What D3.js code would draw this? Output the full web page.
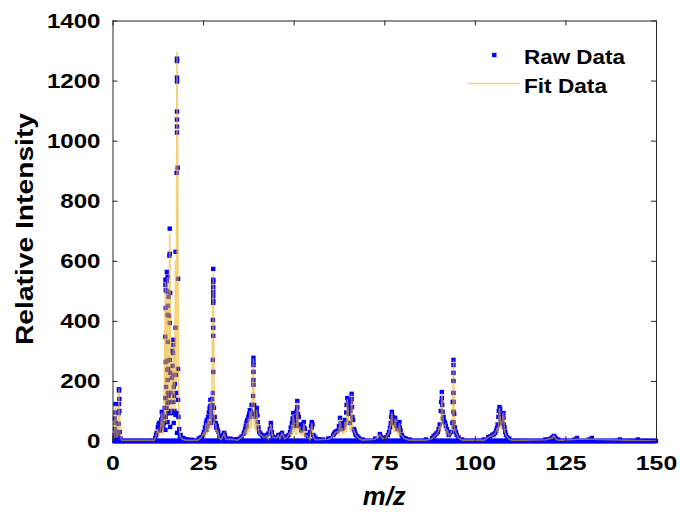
<!DOCTYPE html>
<html><head><meta charset="utf-8">
<script src="https://cdn.jsdelivr.net/npm/d3@7/dist/d3.min.js"></script>
<style>body{margin:0;background:#fff}svg{display:block}text{font-family:"Liberation Sans",Arial,sans-serif;font-weight:bold;fill:#000}</style>
</head><body><div id="chart"></div>
<script>
// ---------- data ----------
const xTicks = [0, 25, 50, 75, 100, 125, 150];
const yTicks = [0, 200, 400, 600, 800, 1000, 1200, 1400];
const seriesNames = ["Raw Data", "Fit Data"];

// raw data points above baseline (m/z, intensity)
const rawMz = [
 0.5,0.7,0.8,0.8,0.9,1.6,1.7,1.7,1.8,1.8,1.8,2.0,2.2,
 11.8,12.2,12.5,12.9,13.2,13.6,13.7,14.0,
 14.6,14.6,14.7,14.7,14.6,14.7,14.6,14.7,14.6,
 14.9,15.0,15.0,15.1,15.1,
 15.2,15.2,15.3,15.2,15.3,15.2,15.3,15.2,15.3,15.2,
 15.5,15.6,
 15.8,15.8,15.7,15.9,15.8,15.8,15.9,15.8,15.8,15.9,
 16.5,16.8,16.8,16.7,16.8,16.9,16.8,16.8,16.9,
 17.4,17.4,17.5,17.4,
 17.8,17.8,17.8,17.8,17.8,17.8,17.8,17.8,17.7,17.8,17.8,
 18.0,18.1,18.1,18.1,18.6,19.2,20.0,
 23.8,24.5,25.2,25.8,25.9,26.4,27.0,27.0,27.1,27.0,27.1,
 27.8,27.8,27.8,27.8,27.8,27.8,27.8,27.8,27.7,27.8,27.8,27.7,27.8,27.7,27.7,27.8,
 28.5,28.6,29.0,29.5,30.8,31.3,32.5,
 35.0,35.6,36.2,36.6,37.0,37.0,37.5,37.9,38.0,
 38.9,38.9,38.9,38.9,38.9,38.9,38.8,
 39.5,39.8,39.8,40.1,40.5,41.2,41.8,42.6,
 43.7,43.7,44.2,45.3,45.8,46.8,47.5,48.2,
 49.0,49.5,49.9,50.0,50.5,51.0,51.0,51.2,51.7,52.3,52.8,52.9,53.5,54.0,55.0,55.0,55.4,56.5,58.0,59.5,
 60.2,60.9,61.5,62.2,62.8,63.0,63.4,64.2,64.8,65.0,65.1,65.2,65.5,66.0,66.0,66.1,66.2,66.6,67.2,68.0,69.0,
 72.5,73.8,74.5,75.5,76.3,76.8,77.1,77.1,77.2,77.6,78.0,78.2,78.6,79.2,79.3,79.8,80.5,82.0,
 86.5,88.2,89.0,89.8,90.3,90.9,90.9,91.0,91.1,91.2,91.8,92.3,92.8,93.5,
 94.1,94.1,94.1,94.1,94.1,94.1,94.1,94.1,94.2,94.8,95.5,96.5,
 102.5,103.7,104.8,105.6,106.1,106.8,107.0,107.0,107.1,107.9,107.9,108.0,108.6,109.5,
 119.5,121.4,121.8,122.3,128.2,132.3,140.0,145.0,
 0.6,1.0,1.9,1.9,0.4,1.2,1.4,
 12.0,12.7,13.0,13.4,13.8,14.2,14.4,14.4,14.8,15.0,15.4,15.5,16.0,16.2,16.4,16.6,17.0,17.1,17.2,17.6,18.2,18.4,18.8,19.6,20.5,21.0,22.0,
 24.2,25.0,25.5,26.0,26.2,26.6,26.8,27.2,27.4,27.5,28.0,28.2,28.8,29.2,30.2,30.5,31.0,33.5,34.2,
 36.4,36.8,37.2,37.7,38.2,38.4,38.6,39.1,39.3,39.6,40.0,40.3,40.8,41.5,42.2,43.0,43.4,44.0,44.6,45.0,46.2,46.5,47.2,47.8,
 48.6,49.2,49.7,50.2,50.7,50.8,51.4,51.9,52.1,52.5,53.1,53.8,54.5,54.8,55.2,55.7,56.0,57.0,
 61.2,61.8,62.5,63.2,63.7,64.0,64.5,64.6,65.3,65.7,65.8,66.4,66.8,67.0,67.6,
 74.0,75.0,76.0,76.6,76.9,77.4,77.8,78.4,78.8,79.0,79.5,80.0,81.0,
 88.6,89.4,90.0,90.6,90.7,91.4,91.6,92.0,92.6,93.0,93.8,93.9,94.3,94.5,95.0,
 104.2,105.2,105.9,106.3,106.5,106.6,107.3,107.5,107.7,108.2,108.4,109.0,
 120.5,121.0,122.0,123.0,127.5,131.5
];
const rawInt = [
 20,40,95,123,60,20,57,93,123,168,172,30,8,
 10,27,45,60,40,97,77,50,
 537,520,503,443,347,263,143,80,37,
 500,563,533,267,237,
 547,497,450,420,330,203,160,127,93,63,
 480,417,
 707,623,617,493,393,270,227,130,93,47,
 300,337,320,293,220,180,130,93,60,
 630,377,220,87,
 1273,1265,1210,1197,1097,1070,1047,1027,893,93,27,
 910,540,240,137,12,8,5,
 8,13,30,60,37,80,137,117,103,80,60,
 573,537,530,513,497,483,467,460,403,377,350,270,230,160,117,70,
 60,45,37,15,27,10,8,
 8,15,25,40,63,50,80,103,80,
 277,263,253,230,203,187,150,
 80,110,100,63,30,20,15,20,
 60,45,15,12,20,27,10,15,
 30,60,93,70,50,133,113,90,50,40,63,45,20,15,63,45,20,5,5,8,
 10,20,30,35,77,60,40,70,143,133,120,90,60,157,140,113,80,40,20,10,5,
 8,23,10,12,30,60,97,87,75,60,77,55,40,63,45,20,10,5,
 5,10,20,30,55,163,143,120,97,75,60,40,20,30,
 270,253,227,200,160,130,97,63,47,30,12,5,
 5,13,20,27,43,113,107,90,70,93,77,55,20,8,
 5,12,17,10,10,10,5,5,
 75,30,100,140,10,10,12,
 20,55,35,70,90,60,110,80,180,110,240,150,100,160,210,250,150,100,190,160,80,40,20,10,5,4,4,
 10,20,45,70,50,95,110,90,120,140,110,80,50,30,15,20,20,5,6,
 30,50,70,90,100,120,90,120,90,95,85,45,25,15,18,25,40,30,10,10,15,22,15,12,
 20,45,75,80,65,100,80,55,35,55,40,20,30,50,55,15,10,6,
 25,32,50,55,45,55,95,120,110,100,130,70,35,25,15,
 15,10,20,45,80,80,70,50,40,55,35,15,8,
 15,25,40,100,130,80,65,50,30,25,60,130,90,45,20,
 15,22,35,55,80,100,60,70,85,45,30,12,
 6,8,14,5,5,5
];
// instrument sampling grid for the zero baseline
const baselineMz = d3.range(0, 150.001, 0.25);

// fitted curve vertices (m/z, intensity)
const fitMz = [
 0,0.5,0.8,1.1,1.5,1.8,2.1,2.6,11.5,12.2,12.5,12.8,13.2,13.6,13.9,14.2,14.6,14.9,15.2,15.5,15.8,16.2,16.5,16.8,17.1,17.4,17.6,17.8,18.0,18.1,18.3,18.7,19.5,20.5,
 23.5,24.5,25.2,25.5,25.8,26.1,26.4,26.7,27.0,27.3,27.8,28.1,28.5,28.8,29.0,29.4,30.0,30.8,31.3,32.5,34.5,
 35.6,36.2,36.6,36.8,37.0,37.3,37.5,37.7,37.9,38.3,38.9,39.2,39.5,39.6,39.8,40.1,40.5,41.2,41.8,42.6,43.0,43.7,44.2,45.3,45.8,46.2,46.8,47.5,48.2,
 49.0,49.3,49.5,49.7,49.9,50.2,50.5,50.7,51.0,51.3,51.7,52.0,52.3,52.5,52.8,53.1,53.5,54.0,54.5,55.0,55.4,56.0,59.5,
 60.2,60.9,61.5,62.2,62.5,62.8,63.1,63.4,63.8,64.2,64.5,64.8,65.2,65.5,65.7,66.0,66.3,66.6,67.2,68.0,69.0,
 72.5,73.8,74.5,75.5,76.3,76.8,77.1,77.4,77.6,77.8,78.0,78.3,78.6,78.9,79.2,79.5,79.8,80.5,82.0,
 86.5,88.2,89.0,89.8,90.3,90.6,90.9,91.3,91.8,92.1,92.3,92.8,93.5,93.8,94.1,94.4,94.8,95.5,96.5,
 102.5,103.7,104.8,105.6,106.1,106.4,106.8,107.2,107.5,107.9,108.2,108.6,109.5,110.5,
 119.5,121.4,121.8,122.3,123.0,128.2,132.3,150
];
const fitInt = [
 0,15,120,10,20,175,15,2,2,25,40,15,35,95,20,60,530,60,545,100,690,90,150,330,100,600,200,1297,900,520,60,12,5,2,
 2,12,28,10,60,20,75,30,135,40,560,60,55,25,35,10,5,25,5,6,3,
 12,22,38,20,60,20,75,30,100,40,275,40,75,30,105,55,25,18,12,18,8,55,12,10,18,8,25,8,12,
 28,15,55,20,90,30,45,20,130,40,45,20,35,15,60,15,18,12,5,60,15,4,6,
 8,18,28,32,15,75,30,38,20,65,30,140,60,55,30,155,40,35,18,8,3,
 6,20,8,10,28,55,95,40,55,30,75,30,38,20,60,20,18,8,3,
 3,8,18,28,50,30,160,50,55,25,38,18,28,40,268,40,28,10,3,
 3,12,18,25,40,30,110,40,60,95,35,18,6,2,
 4,10,18,8,2,6,6,0
];

// ---------- layout ----------
const W = 680, H = 514;
const mLeft = 112.5, mRight = 656, mTop = 20.5, mBottom = 441;
const x = d3.scaleLinear().domain([0, 150]).range([mLeft, mRight]);
const y = d3.scaleLinear().domain([0, 1400]).range([mBottom, mTop]);

const svg = d3.select("#chart").append("svg").attr("width", W).attr("height", H);

svg.append("clipPath").attr("id", "clip").append("rect")
  .attr("x", mLeft).attr("y", mTop - 3).attr("width", mRight - mLeft + 3).attr("height", mBottom - mTop + 6);
const inner = svg.append("g").attr("clip-path", "url(#clip)");

const ms = 4.4;
// baseline samples
inner.append("g").selectAll("rect").data(baselineMz).join("rect")
  .attr("x", d => x(d) - ms / 2).attr("y", y(0) - ms / 2)
  .attr("width", ms).attr("height", ms).attr("fill", "#0000ff");
// raw points
const n = Math.min(rawMz.length, rawInt.length);
const raw = rawMz.slice(0, n).map((m, i) => [m, rawInt[i]]);
inner.append("g").selectAll("rect").data(raw).join("rect")
  .attr("x", d => x(d[0]) - ms / 2).attr("y", d => y(d[1]) - ms / 2)
  .attr("width", ms).attr("height", ms).attr("fill", "#0000ff");
// fit line
const nf = Math.min(fitMz.length, fitInt.length);
const fit = fitMz.slice(0, nf).map((m, i) => [m, fitInt[i]]);
inner.append("path").datum(fit)
  .attr("d", d3.line().x(d => x(d[0])).y(d => y(d[1])))
  .attr("fill", "none").attr("stroke", "#EDB120").attr("stroke-opacity", 0.6)
  .attr("stroke-width", 1.6).attr("stroke-linejoin", "miter");

// ---------- axes ----------
const axCol = "#262626";
const tickLen = 5;
const gx = svg.append("g").attr("transform", `translate(0,${mBottom})`)
  .call(d3.axisBottom(x).tickValues(xTicks).tickFormat(d3.format("d")).tickSizeInner(-tickLen).tickSizeOuter(0).tickPadding(14));
const gxt = svg.append("g").attr("transform", `translate(0,${mTop})`)
  .call(d3.axisTop(x).tickValues(xTicks).tickSizeInner(-tickLen).tickSizeOuter(0).tickFormat(""));
const gy = svg.append("g").attr("transform", `translate(${mLeft},0)`)
  .call(d3.axisLeft(y).tickValues(yTicks).tickFormat(d3.format("d")).tickSizeInner(-tickLen).tickSizeOuter(0).tickPadding(12));
const gyr = svg.append("g").attr("transform", `translate(${mRight},0)`)
  .call(d3.axisRight(y).tickValues(yTicks).tickSizeInner(-tickLen).tickSizeOuter(0).tickFormat(""));
[gx, gxt, gy, gyr].forEach(g => {
  g.select(".domain").attr("stroke", axCol).attr("stroke-width", 1);
  g.selectAll(".tick line").attr("stroke", axCol);
});
gx.selectAll(".tick text").attr("font-size", 21).attr("fill", "#000")
  .attr("font-family", "Liberation Sans, Arial, sans-serif").attr("font-weight", "bold")
  .attr("textLength", d => String(d).length * 13.8).attr("lengthAdjust", "spacingAndGlyphs");
gy.selectAll(".tick text").attr("font-size", 21).attr("fill", "#000")
  .attr("font-family", "Liberation Sans, Arial, sans-serif").attr("font-weight", "bold")
  .attr("textLength", d => String(d).length * 13.4).attr("lengthAdjust", "spacingAndGlyphs");

// axis labels
svg.append("text").attr("x", x(75)).attr("y", 505).attr("font-size", 26)
  .attr("font-style", "italic").attr("text-anchor", "middle")
  .attr("textLength", 43).attr("lengthAdjust", "spacingAndGlyphs").text("m/z");
svg.append("text").attr("transform", `translate(33,229) rotate(-90)`).attr("font-size", 24)
  .attr("text-anchor", "middle").attr("textLength", 232).attr("lengthAdjust", "spacingAndGlyphs")
  .text("Relative Intensity");

// legend
const lg = svg.append("g");
lg.append("rect").attr("x", 494.3 - 2.2).attr("y", 55 - 2.2).attr("width", 4.4).attr("height", 4.4).attr("fill", "#0000ff");
lg.append("text").attr("x", 524).attr("y", 64).attr("font-size", 20.5)
  .attr("textLength", 101).attr("lengthAdjust", "spacingAndGlyphs").text(seriesNames[0]);
lg.append("line").attr("x1", 468).attr("x2", 520).attr("y1", 83.5).attr("y2", 83.5)
  .attr("stroke", "#EDB120").attr("stroke-opacity", 0.6).attr("stroke-width", 1.6);
lg.append("text").attr("x", 524).attr("y", 93.3).attr("font-size", 20.5)
  .attr("textLength", 83).attr("lengthAdjust", "spacingAndGlyphs").text(seriesNames[1]);
</script></body></html>
